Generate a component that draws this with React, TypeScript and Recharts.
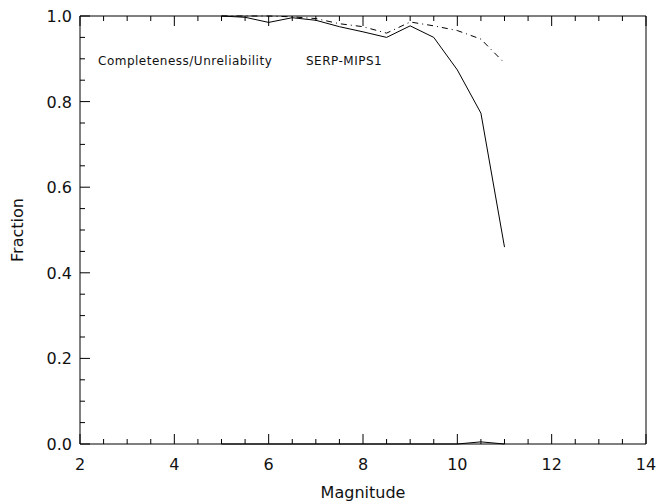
import React from "react";
import { LineChart, Line, XAxis, YAxis } from "recharts";

const magnitudes = [5, 5.5, 6, 6.5, 7, 7.5, 8, 8.5, 9, 9.5, 10, 10.5, 11];
const completeness = [1.0, 0.997, 0.985, 0.996, 0.99, 0.975, 0.963, 0.95, 0.977, 0.95, 0.874, 0.773, 0.46];
const reference = [1.0, 1.0, 1.0, 0.998, 0.994, 0.982, 0.975, 0.96, 0.986, 0.977, 0.966, 0.946, 0.89];
const unreliability = [0, 0, 0, 0, 0, 0, 0, 0, 0, 0, 0, 0.005, 0];

const xTicks = [2, 2.5, 3, 3.5, 4, 4.5, 5, 5.5, 6, 6.5, 7, 7.5, 8, 8.5, 9, 9.5, 10, 10.5, 11, 11.5, 12, 12.5, 13, 13.5, 14];
const xMajor = [2, 4, 6, 8, 10, 12, 14];
const yTicks = [0, 0.05, 0.1, 0.15, 0.2, 0.25, 0.3, 0.35, 0.4, 0.45, 0.5, 0.55, 0.6, 0.65, 0.7, 0.75, 0.8, 0.85, 0.9, 0.95, 1.0];
const yMajor = [0, 0.2, 0.4, 0.6, 0.8, 1.0];

const data = magnitudes.map((m, i) => ({
  m,
  c: completeness[i],
  r: reference[i],
  u: unreliability[i],
}));

const FONT = "DejaVu Sans, sans-serif";
const TEXT = "#111";
const isMajor = (v: number, arr: number[]) => arr.some((a) => Math.abs(a - v) < 1e-6);

const BottomTick = (props: any) => {
  const { x, y, payload } = props;
  const major = isMajor(payload.value, xMajor);
  return (
    <g>
      <line x1={x} x2={x} y1={y} y2={y - (major ? 10 : 5)} stroke="#000" strokeWidth={1} />
      {major && (
        <text x={x} y={y + 26} textAnchor="middle" fontSize={16} fontFamily={FONT} fill={TEXT}>
          {payload.value}
        </text>
      )}
    </g>
  );
};

const TopTick = (props: any) => {
  const { x, y, payload } = props;
  const major = isMajor(payload.value, xMajor);
  return <line x1={x} x2={x} y1={y} y2={y + (major ? 10 : 5)} stroke="#000" strokeWidth={1} />;
};

const LeftTick = (props: any) => {
  const { x, y, payload } = props;
  const major = isMajor(payload.value, yMajor);
  return (
    <g>
      <line x1={x} x2={x + (major ? 10 : 5)} y1={y} y2={y} stroke="#000" strokeWidth={1} />
      {major && (
        <text x={x - 8} y={y + 6} textAnchor="end" fontSize={16} fontFamily={FONT} fill={TEXT}>
          {payload.value.toFixed(1)}
        </text>
      )}
    </g>
  );
};

const RightTick = (props: any) => {
  const { x, y, payload } = props;
  const major = isMajor(payload.value, yMajor);
  return <line x1={x} x2={x - (major ? 10 : 5)} y1={y} y2={y} stroke="#000" strokeWidth={1} />;
};

export default function App() {
  return (
    <div style={{ position: "absolute", left: 0, top: 0, width: 660, height: 504, background: "#fff" }}>
      <LineChart width={660} height={504} data={data} margin={{ top: 0, right: 0, bottom: 0, left: 0 }}>
        <XAxis
          xAxisId="b"
          dataKey="m"
          type="number"
          domain={[2, 14]}
          ticks={xTicks}
          interval={0}
          orientation="bottom"
          height={60}
          tickSize={0}
          tickMargin={0}
          tickLine={false}
          axisLine={{ stroke: "#000", strokeWidth: 1 }}
          tick={<BottomTick />}
          label={{ value: "Magnitude", position: "insideBottom", offset: 6, fontSize: 16, fontFamily: FONT, fill: TEXT }}
        />
        <XAxis
          xAxisId="t"
          dataKey="m"
          type="number"
          domain={[2, 14]}
          ticks={xTicks}
          interval={0}
          orientation="top"
          height={16}
          tickSize={0}
          tickMargin={0}
          tickLine={false}
          axisLine={{ stroke: "#000", strokeWidth: 1 }}
          tick={<TopTick />}
        />
        <YAxis
          yAxisId="l"
          type="number"
          domain={[0, 1]}
          ticks={yTicks}
          interval={0}
          orientation="left"
          width={80}
          tickSize={0}
          tickMargin={0}
          tickLine={false}
          axisLine={{ stroke: "#000", strokeWidth: 1 }}
          tick={<LeftTick />}
          label={{ value: "Fraction", angle: -90, position: "insideLeft", offset: 17, fontSize: 16, fontFamily: FONT, fill: TEXT, style: { textAnchor: "middle" } }}
        />
        <YAxis
          yAxisId="r"
          type="number"
          domain={[0, 1]}
          ticks={yTicks}
          interval={0}
          orientation="right"
          width={14}
          tickSize={0}
          tickMargin={0}
          tickLine={false}
          axisLine={{ stroke: "#000", strokeWidth: 1 }}
          tick={<RightTick />}
        />
        <Line xAxisId="b" yAxisId="l" dataKey="c" type="linear" stroke="#000" strokeWidth={1} dot={false} isAnimationActive={false} />
        <Line xAxisId="b" yAxisId="l" dataKey="r" type="linear" stroke="#000" strokeWidth={1} strokeDasharray="6 4 1 4" dot={false} isAnimationActive={false} />
        <Line xAxisId="b" yAxisId="l" dataKey="u" type="linear" stroke="#000" strokeWidth={1} dot={false} isAnimationActive={false} />
      </LineChart>
      <div
        style={{
          position: "absolute",
          left: 98,
          top: 54,
          fontFamily: FONT,
          fontSize: 12,
          letterSpacing: "0.5px",
          color: TEXT,
          whiteSpace: "pre",
          lineHeight: "14px",
        }}
      >
        <span>Completeness/Unreliability</span>
        <span style={{ position: "absolute", left: 208 }}>SERP-MIPS1</span>
      </div>
    </div>
  );
}
